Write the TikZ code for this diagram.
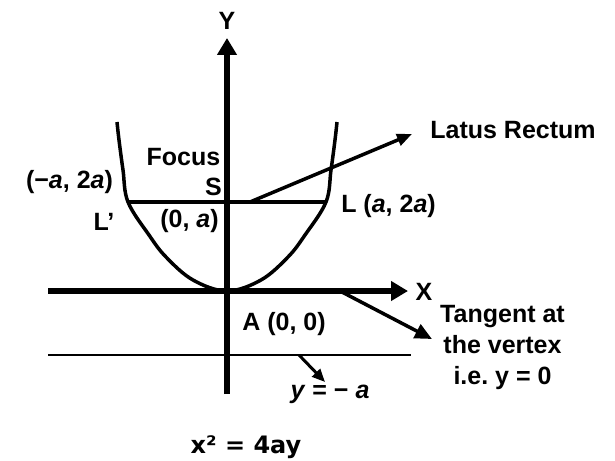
\documentclass[tikz,border=0pt]{standalone}
\usepackage{fontspec}
\setmainfont{Liberation Sans}
\newfontfamily\formulafont{DejaVu Sans}
\usetikzlibrary{arrows.meta}
\frenchspacing

\begin{document}
\begin{tikzpicture}[x=1pt, y=-1pt,
  lbl/.style={inner sep=0pt, anchor=base, font=\fontsize{25}{31}\selectfont\bfseries},
  axis/.style={line width=5.5pt, -{Triangle[length=17pt, width=19pt]}},
  arr/.style={line width=3.5pt, -{Triangle[length=15pt, width=13pt]}}
]
\useasboundingbox (0,0) rectangle (615,460);

% axes
\coordinate (A) at (227,291);
\coordinate (ybot) at (227,394);
\coordinate (ytop) at (227,38);
\coordinate (xleft) at (48,291);
\coordinate (xright) at (408,291);
\draw[axis] (ybot) -- (ytop);
\draw[axis] (xleft) -- (xright);
\node[lbl] (ylbl) at (227,30) {Y};
\node[lbl] (xlbl) at (424,300) {X};

% parabola
\draw[line width=3.5pt, line join=round] plot[smooth, tension=0.6] coordinates {
  (117,122) (119,140) (123,170) (128,202) (149,235) (166,257) (193,280) (227,291)
  (261,280) (288,257) (305,235) (326,202) (331,170) (335,140) (337,122)};

% latus rectum and directrix
\coordinate (Lp) at (127,202);
\coordinate (L) at (327,202);
\coordinate (S) at (250,202);
\coordinate (lrtip) at (412,134);
\draw[line width=4.5pt] (Lp) -- (L);
\draw[arr, -{Triangle[length=15pt, width=12pt]}] (S) -- (lrtip);
\coordinate (dleft) at (48,355);
\coordinate (dright) at (411,355);
\draw[line width=2.5pt] (dleft) -- (dright);

% pointers
\coordinate (tgstart) at (340,291);
\coordinate (tgtip) at (432,339);
\draw[arr, -{Triangle[length=17pt, width=15pt]}] (tgstart) -- (tgtip);
\coordinate (dstart) at (299,355);
\coordinate (dtip) at (325,382);
\draw[line width=3pt, -{Triangle[length=13pt, width=11pt]}] (dstart) -- (dtip);

% labels
\node[lbl] (focus) at (183.5,165) {Focus};
\node[lbl] (slbl) at (213.5,195) {S};
\node[lbl] (lpc) at (69.5,188) {(−\textit{a}, 2\textit{a})};
\node[lbl] (lplbl) at (104,230) {L'};
\node[lbl] (sc) at (189.5,227) {(0, \textit{a})};
\node[lbl] (lc) at (388.5,212) {L (\textit{a}, 2\textit{a})};
\node[lbl] (lrlbl) at (513,138) {Latus Rectum};
\node[lbl] (alb) at (284,330) {A (0, 0)};
\node[lbl, anchor=north, align=center] (tglbl) at (502.5,305)
  {Tangent at\\the vertex\\i.e. y = 0};
\node[lbl] (dlbl) at (330,398) {\textit{y} = − \textit{a}};
\node[inner sep=0pt, anchor=base, font=\formulafont\fontsize{24}{28}\selectfont\bfseries]
  (eq) at (246,453) {x² = 4ay};
\end{tikzpicture}
\end{document}
